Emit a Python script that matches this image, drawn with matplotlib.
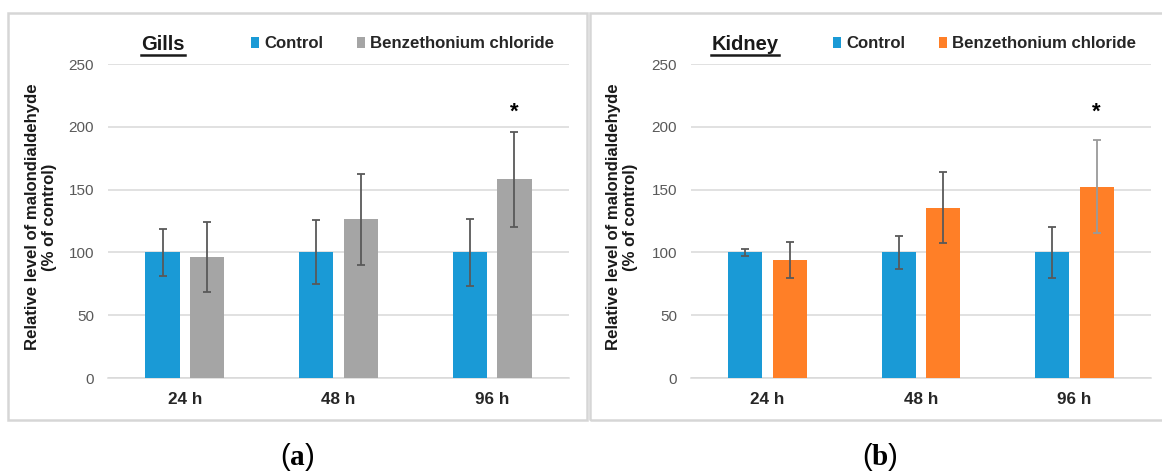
import matplotlib
matplotlib.use("Agg")
import matplotlib.pyplot as plt
from matplotlib.patches import Rectangle
from matplotlib.lines import Line2D
import numpy as np

plt.rcParams['font.family'] = ['Liberation Sans', 'DejaVu Sans']
plt.rcParams['mathtext.fontset'] = 'custom'
plt.rcParams['mathtext.rm'] = 'Liberation Serif'
plt.rcParams['mathtext.bf'] = 'Liberation Serif:bold'

categories = ['24 h', '48 h', '96 h']
series_names = ['Control', 'Benzethonium chloride']

gills_control = [100, 100, 100]
gills_control_err = [19, 25.5, 26.6]
gills_bc = [96.5, 126.3, 158.2]
gills_bc_err = [28, 36, 38]

kidney_control = [100, 100, 100]
kidney_control_err = [2.7, 13, 20]
kidney_bc = [93.9, 135.6, 152.1]
kidney_bc_err = [14.2, 28.5, 37]

y_ticks = [0, 50, 100, 150, 200, 250]
star_y = 212

W, H = 1162, 471
fig = plt.figure(figsize=(W / 100, H / 100), dpi=100)

BLUE = '#1A9AD6'
GRAY = '#A5A5A5'
ORANGE = '#FF7F27'
GRID = '#D9D9D9'
TXT = '#595959'


def fx(px):
    return px / W


def fy(py):
    return 1 - py / H


# panel frames
for (x0, x1) in [(8, 587), (590, 1170)]:
    fig.patches.append(Rectangle((fx(x0), fy(420)), fx(x1 - x0), (420 - 13) / H,
                                 transform=fig.transFigure, fill=False,
                                 edgecolor='#D6D6D6', linewidth=1.8))


def panel(ax_left, ax_right, ctrl, ctrl_err, bc, bc_err, bc_color, err_colors,
          title, title_cx, leg_x, ylab_x, cap_cx, cap_text):
    ax = fig.add_axes([fx(ax_left), fy(378), fx(ax_right - ax_left), 314 / H])
    x = np.arange(len(categories))
    w = 0.222
    off = 0.145
    ax.bar(x - off, ctrl, w, color=BLUE, label=series_names[0], zorder=2)
    ax.bar(x + off, bc, w, color=bc_color, label=series_names[1], zorder=2)
    for i in range(len(categories)):
        ax.errorbar(x[i] - off, ctrl[i], yerr=ctrl_err[i], fmt='none',
                    ecolor='#595959', elinewidth=1.3, capsize=2.8, capthick=1.3, zorder=3)
        ax.errorbar(x[i] + off, bc[i], yerr=bc_err[i], fmt='none',
                    ecolor=err_colors[i], elinewidth=1.3, capsize=2.8, capthick=1.3, zorder=3)
    ax.text(x[2] + off, star_y, '*', ha='center', va='center', fontsize=16,
            fontweight='bold', color='black')
    ax.set_xlim(-0.5, 2.5)
    ax.set_ylim(0, 250)
    ax.set_yticks(y_ticks)
    ax.set_xticks(x)
    ax.set_xticklabels(categories, fontweight='bold', fontsize=12.3, color='#262626')
    ax.tick_params(axis='both', length=0)
    ax.tick_params(axis='y', labelsize=11, labelcolor=TXT, pad=10)
    ax.tick_params(axis='x', pad=10)
    ax.grid(axis='y', color=GRID, linewidth=1.1, zorder=0)
    ax.set_axisbelow(True)
    for s in ['top', 'right', 'left']:
        ax.spines[s].set_visible(False)
    ax.spines['bottom'].set_color(GRID)
    ax.spines['bottom'].set_linewidth(1.1)
    ax.spines['bottom'].set_zorder(1)

    t = fig.text(fx(title_cx), fy(44), title, ha='center', va='center',
                 fontsize=14.5, fontweight='bold', color='#1a1a1a')
    fig.canvas.draw()
    bb = t.get_window_extent()
    fig.add_artist(Line2D([bb.x0 / W, bb.x1 / W], [(bb.y0 - 1.0) / H] * 2,
                          transform=fig.transFigure, color='#1a1a1a', linewidth=1.8))

    leg = ax.legend(loc='center left', bbox_to_anchor=(fx(leg_x), fy(44)),
                    bbox_transform=fig.transFigure, ncol=2, frameon=False,
                    prop={'weight': 'bold', 'size': 12.1}, handlelength=0.5,
                    handleheight=0.6, handletextpad=0.3, columnspacing=2.0,
                    borderaxespad=0, borderpad=0)
    for txt in leg.get_texts():
        txt.set_color('#262626')

    fig.text(fx(ylab_x), fy(217), 'Relative level of malondialdehyde\n(% of control)',
             rotation=90, ha='center', va='center', multialignment='center',
             fontsize=12.1, fontweight='bold', color='#1a1a1a', linespacing=1.1)

    fig.text(fx(cap_cx), fy(457), cap_text, ha='center', va='center', fontsize=21,
             color='black')


panel(108, 569, gills_control, gills_control_err, gills_bc, gills_bc_err, GRAY,
      ['#595959', '#595959', '#595959'], 'Gills', 163, 251, 41, 297, r'($\mathbf{a}$)')
panel(691, 1151, kidney_control, kidney_control_err, kidney_bc, kidney_bc_err, ORANGE,
      ['#595959', '#595959', '#9A9A9A'], 'Kidney', 745, 833, 622, 880, r'($\mathbf{b}$)')

fig.savefig('out.png', dpi=100)
